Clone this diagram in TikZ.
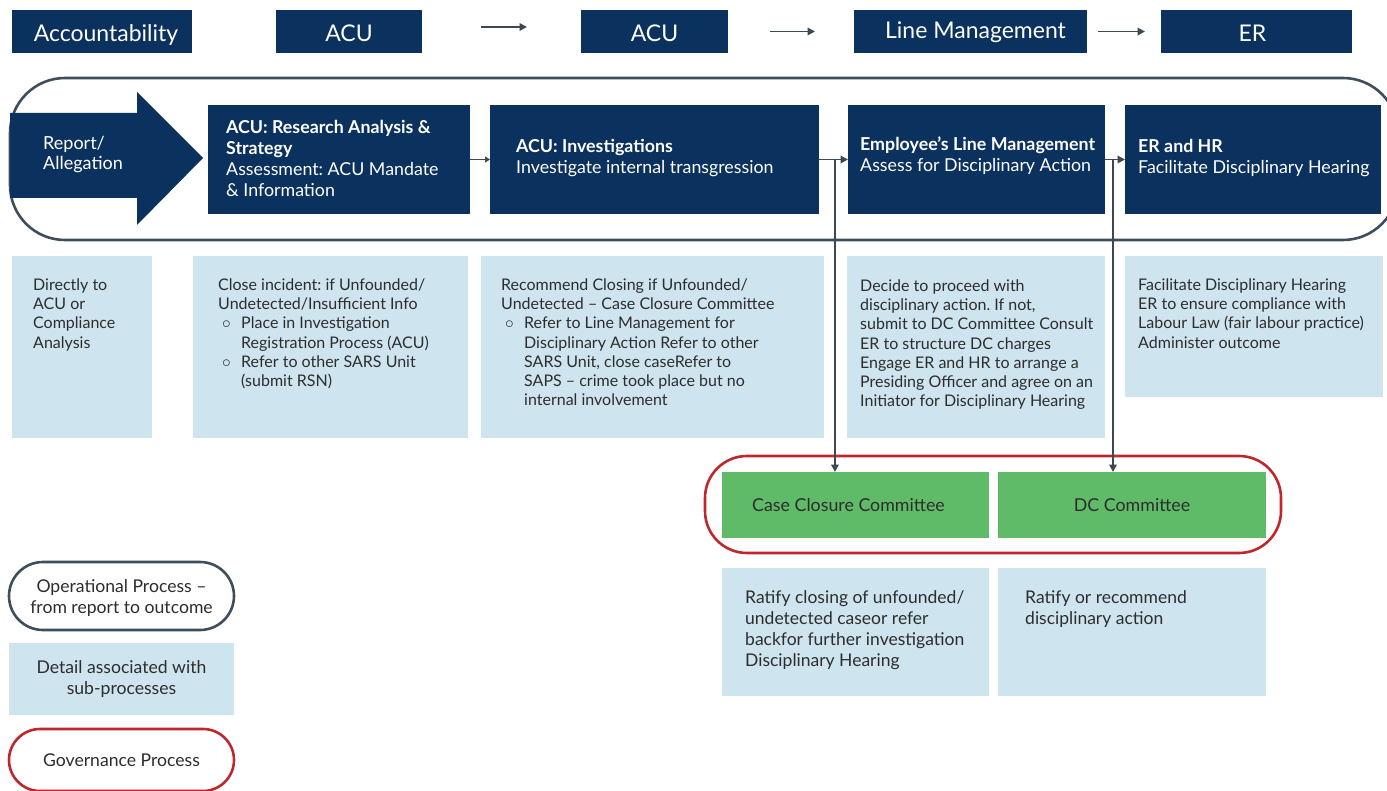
\documentclass[tikz,border=0pt]{standalone}
\usepackage{fontspec}
\setmainfont{Lato}
\frenchspacing
\usetikzlibrary{arrows.meta,calc}
\definecolor{navy}{RGB}{11,49,94}
\definecolor{lblue}{RGB}{206,228,238}
\definecolor{cgreen}{RGB}{96,187,104}
\definecolor{cred}{RGB}{190,40,45}
\definecolor{ogray}{RGB}{62,78,92}
\definecolor{agray}{RGB}{60,72,84}
\definecolor{tgray}{RGB}{45,45,45}
\begin{document}
\begin{tikzpicture}[x=1pt,y=-1pt,
  hdr/.style={fill=navy,inner sep=0pt,outer sep=0pt,minimum height=43pt,anchor=north west},
  hdrtext/.style={text=white,inner sep=0pt,text height=17pt,text depth=5pt,font=\fontsize{23}{26}\selectfont},
  procbox/.style={fill=navy,inner sep=0pt,outer sep=0pt,minimum height=109pt,anchor=north west},
  proctext/.style={text=white,inner sep=0pt,anchor=west,align=left,font=\fontsize{17.8}{21}\selectfont},
  detbox/.style={fill=lblue,inner sep=0pt,outer sep=0pt,anchor=north west},
  dettext/.style={text=tgray,inner sep=0pt,anchor=north west,align=left,font=\fontsize{16}{19.2}\selectfont},
  det2text/.style={text=tgray,inner sep=0pt,anchor=north west,align=left,font=\fontsize{17.5}{21}\selectfont},
  grbox/.style={fill=cgreen,text=tgray,inner sep=0pt,outer sep=0pt,minimum width=267pt,minimum height=66pt,anchor=north west,font=\fontsize{17.8}{21}\selectfont},
  arr/.style={draw=agray,line width=1.8pt,-{Triangle[length=7.5pt,width=7.5pt]}},
  opline/.style={draw=ogray,line width=2.6pt},
  govline/.style={draw=cred,line width=2.6pt},
  legtext/.style={text=tgray,align=center,inner sep=0pt,font=\fontsize{17.6}{21}\selectfont}]
\useasboundingbox (0,0) rectangle (1387,791);
\fill[white] (0,0) rectangle (1387,791);

% header row
\node[hdr,minimum width=180pt] (h1) at (12,10) {};
\node[hdr,minimum width=146pt] (h2) at (276,10) {};
\node[hdr,minimum width=147pt] (h3) at (581,10) {};
\node[hdr,minimum width=233pt] (h4) at (854,10) {};
\node[hdr,minimum width=191pt] (h5) at (1161,10) {};
\node[hdrtext] (h1t) at ([xshift=4pt,yshift=-3.8pt]h1.center) {Accountability};
\node[hdrtext] (h2t) at ([yshift=-3.8pt]h2.center) {ACU};
\node[hdrtext] (h3t) at ([yshift=-3.8pt]h3.center) {ACU};
\node[hdrtext] (h4t) at ([xshift=5pt,yshift=-0.8pt]h4.center) {Line Management};
\node[hdrtext] (h5t) at ([xshift=-4pt,yshift=-3.8pt]h5.center) {ER};
\draw[arr] ([xshift=59pt,yshift=4.5pt]h2.east) -- ([xshift=-54pt,yshift=4.5pt]h3.west);
\draw[arr] ([xshift=42pt]h3.east) -- ([xshift=-39pt]h4.west);
\draw[arr] ([xshift=11pt]h4.east) -- ([xshift=-16pt]h5.west);

% operational outline
\draw[opline,rounded corners=55pt] (10,78) rectangle (1398,240);

% report arrow
\fill[navy] (10,113) -- (137,113) -- (137,92) -- (203,158) -- (137,225) -- (137,198) -- (10,198) -- cycle;
\node[proctext,anchor=north west,font=\fontsize{18}{20.5}\selectfont] (rep) at (43,136) {Report/\\Allegation};

% process boxes
\node[procbox,minimum width=262pt] (p1) at (208,105) {};
\node[procbox,minimum width=329pt] (p2) at (490,105) {};
\node[procbox,minimum width=257pt] (p3) at (848,105) {};
\node[procbox,minimum width=256pt] (p4) at (1125,105) {};
\node[proctext] (p1t) at ([xshift=18pt,yshift=1pt]p1.west) {\textbf{ACU: Research Analysis \&}\\\textbf{Strategy}\\Assessment: ACU Mandate\\\& Information};
\node[proctext] (p2t) at ([xshift=26pt,yshift=1pt]p2.west) {\textbf{ACU: Investigations}\\Investigate internal transgression};
\node[proctext] (p3t) at ([xshift=12pt,yshift=4pt]p3.west) {\textbf{Employee's Line Management}\\Assess for Disciplinary Action};
\node[proctext] (p4t) at ([xshift=13pt,yshift=1pt]p4.west) {\textbf{ER and HR}\\Facilitate Disciplinary Hearing};

% detail boxes
\node[detbox,minimum width=140pt,minimum height=182pt] (d1) at (12,256) {};
\node[detbox,minimum width=275pt,minimum height=182pt] (d2) at (193,256) {};
\node[detbox,minimum width=343pt,minimum height=182pt] (d3) at (481,256) {};
\node[detbox,minimum width=258pt,minimum height=182pt] (d4) at (847,256) {};
\node[detbox,minimum width=258pt,minimum height=141pt] (d5) at (1125,256) {};
\node[dettext] (d1t) at ([shift={(21,22.5)}]d1.north west) {Directly to\\ACU or\\Compliance\\Analysis};
\node[dettext] (d2t) at ([shift={(25,22.5)}]d2.north west) {Close incident: if Unfounded/\\Undetected/Insufficient Info\\
\makebox[23pt][l]{\hspace{4pt}$\circ$}Place in Investigation\\
\hspace*{23pt}Registration Process (ACU)\\
\makebox[23pt][l]{\hspace{4pt}$\circ$}Refer to other SARS Unit\\
\hspace*{23pt}(submit RSN)};
\node[dettext] (d3t) at ([shift={(20,22.5)}]d3.north west) {Recommend Closing if Unfounded/\\Undetected -- Case Closure Committee\\
\makebox[23pt][l]{\hspace{4pt}$\circ$}Refer to Line Management for\\
\hspace*{23pt}Disciplinary Action Refer to other\\
\hspace*{23pt}SARS Unit, close caseRefer to\\
\hspace*{23pt}SAPS -- crime took place but no\\
\hspace*{23pt}internal involvement};
\node[dettext] (d4t) at ([shift={(13,23.5)}]d4.north west) {Decide to proceed with\\disciplinary action. If not,\\submit to DC Committee Consult\\ER to structure DC charges\\Engage ER and HR to arrange a\\Presiding Officer and agree on an\\Initiator for Disciplinary Hearing};
\node[dettext] (d5t) at ([shift={(13,22.5)}]d5.north west) {Facilitate Disciplinary Hearing\\ER to ensure compliance with\\Labour Law (fair labour practice)\\Administer outcome};

% governance
\draw[govline,rounded corners=42pt] (705,456) rectangle (1281,553);
\node[grbox] (g1) at (722,472) {\hspace{-14pt}Case Closure Committee};
\node[grbox,minimum width=268pt] (g2) at (998,472) {DC Committee};
\node[detbox,minimum width=267pt,minimum height=128pt] (e1) at (722,568) {};
\node[detbox,minimum width=268pt,minimum height=128pt] (e2) at (998,568) {};
\node[det2text] (e1t) at ([shift={(23,22.5)}]e1.north west) {Ratify closing of unfounded/\\undetected caseor refer\\backfor further investigation\\Disciplinary Hearing};
\node[det2text] (e2t) at ([shift={(27,22.5)}]e2.north west) {Ratify or recommend\\disciplinary action};

% connectors
\draw[arr,-{Triangle[length=5pt,width=6pt]}] (p1.east) -- (p2.west);
\draw[arr] (p2.east) -- (p3.west);
\draw[arr] (p3.east) -- (p4.west);
\coordinate (j1) at ($(p2.east)!0.55!(p3.west)$);
\coordinate (j2) at ($(p3.east)!0.4!(p4.west)$);
\draw[arr] (j1) -- (j1 |- g1.north);
\draw[arr] (j2) -- (j2 |- g2.north);

% legend
\draw[opline,rounded corners=34pt] (9,562) rectangle (234,630);
\node[legtext] (l1) at (121.5,598.5) {Operational Process --\\from report to outcome};
\node[detbox,minimum width=225pt,minimum height=72pt] (l2) at (9,643) {};
\node[legtext] (l2t) at (l2.center) {Detail associated with\\sub-processes};
\draw[govline,rounded corners=31pt] (9,729) rectangle (234,791);
\node[legtext] (l3) at (121.5,760) {Governance Process};
\end{tikzpicture}
\end{document}
